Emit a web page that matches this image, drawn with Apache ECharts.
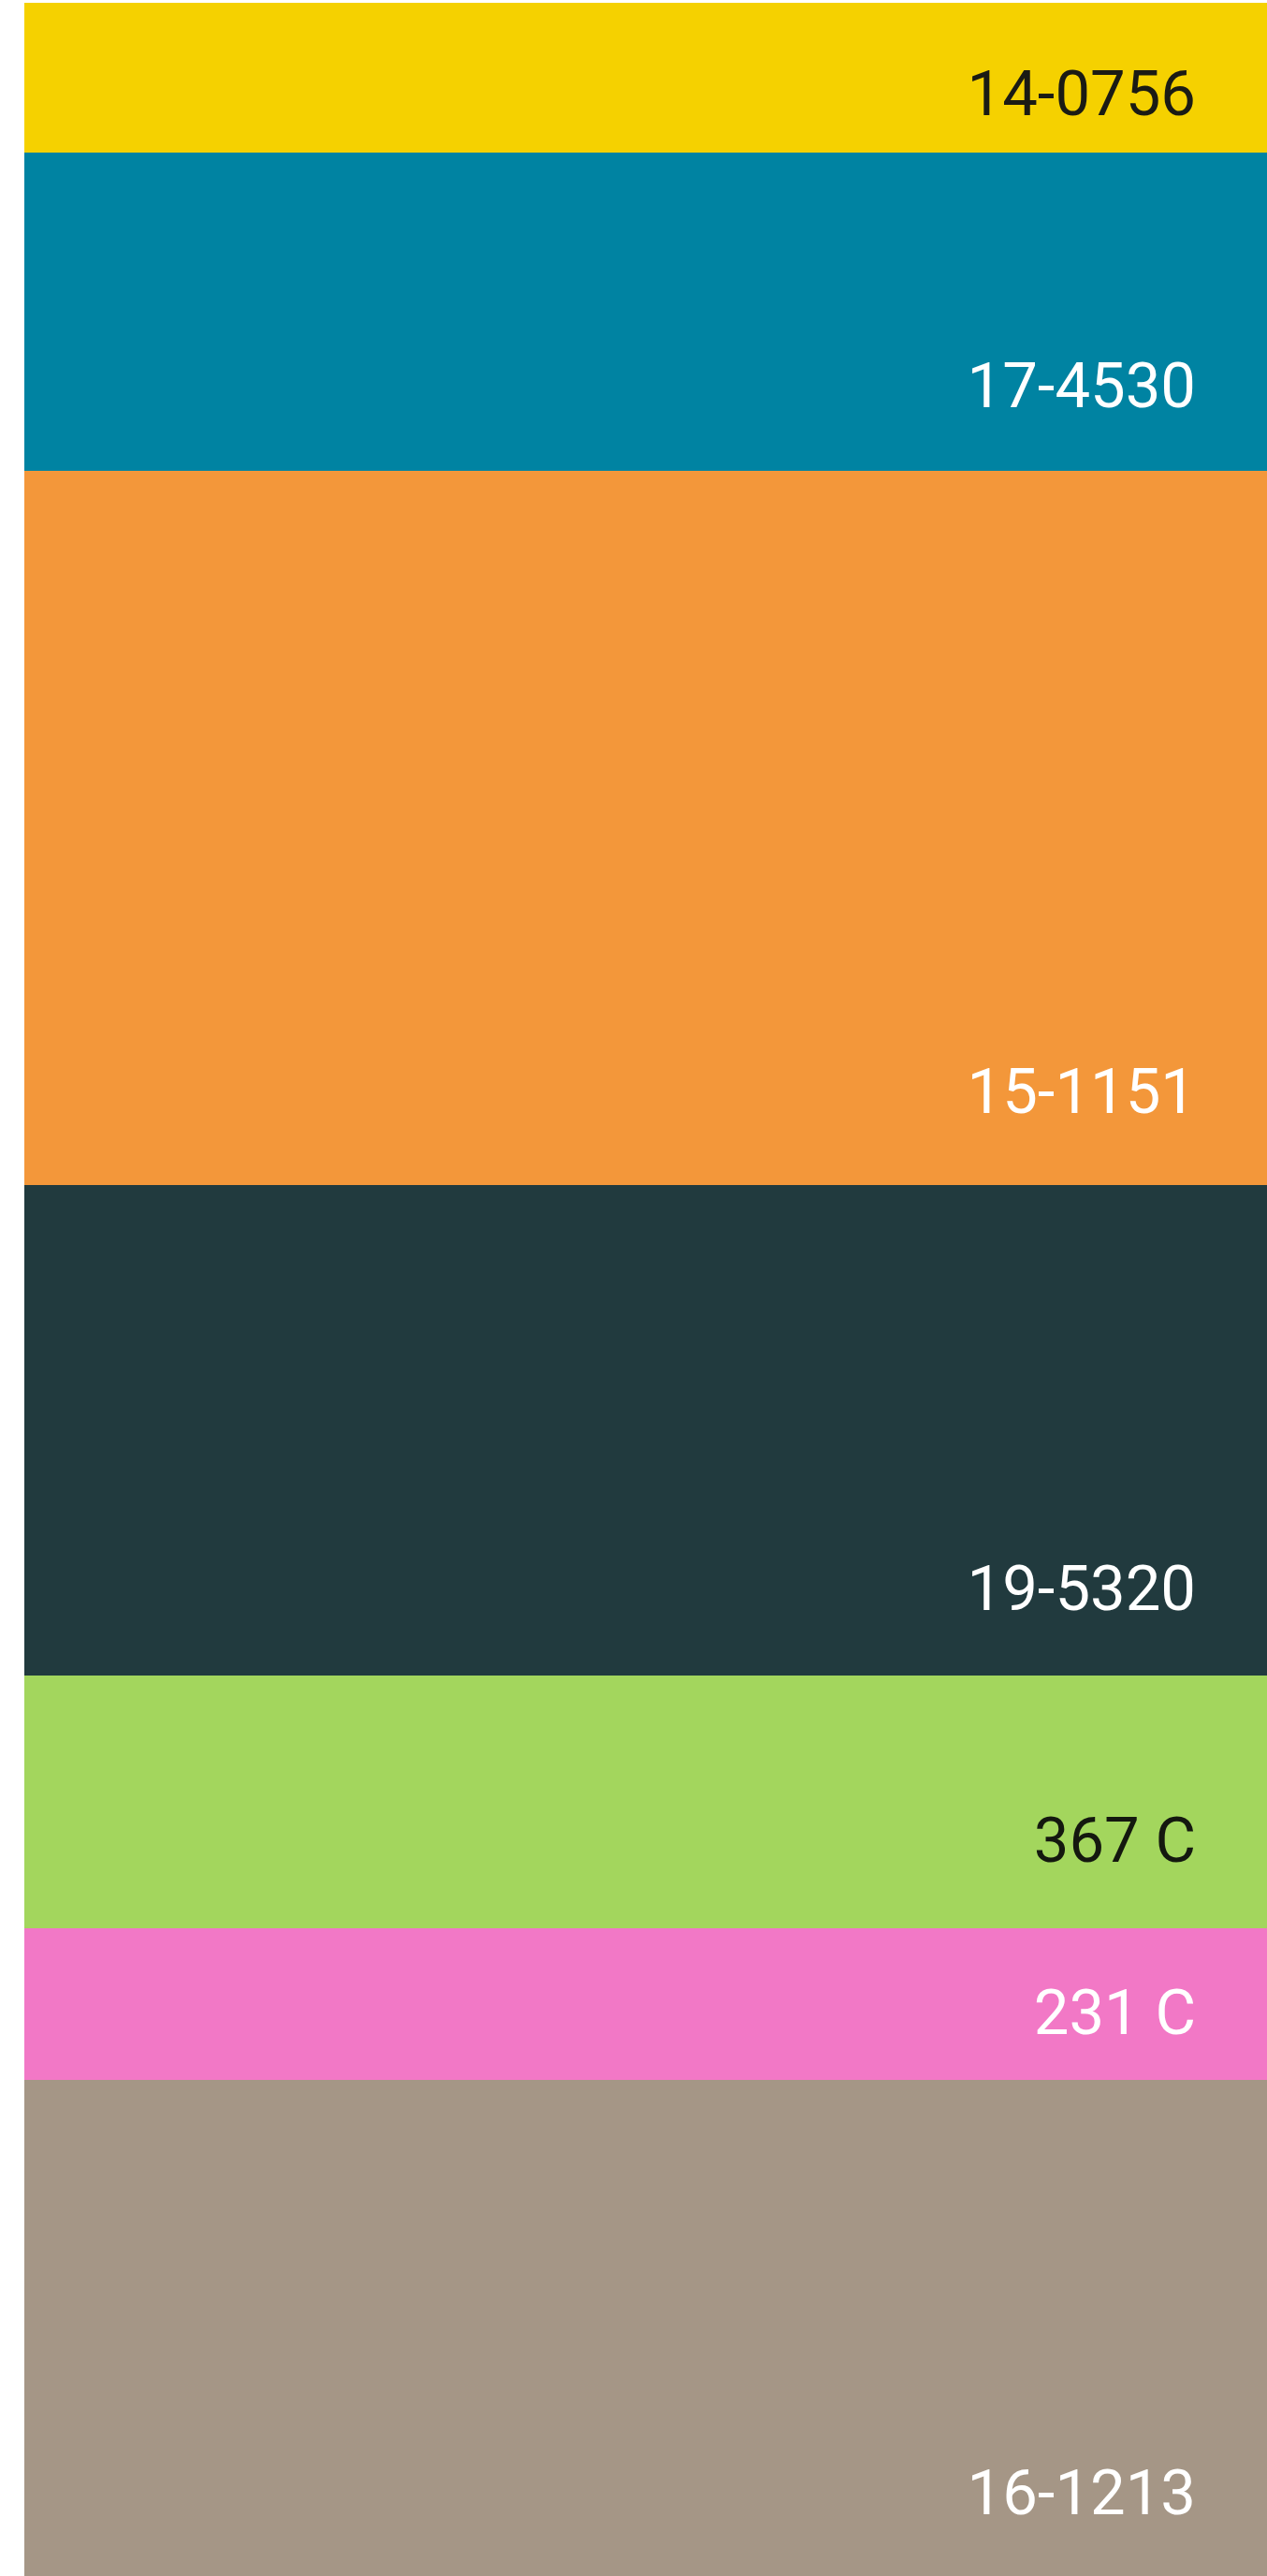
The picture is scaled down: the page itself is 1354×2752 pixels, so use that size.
<!DOCTYPE html>
<html>
<head>
<meta charset="utf-8">
<style>
html,body{margin:0;padding:0;background:#fff;}
#c{width:1354px;height:2752px;}
</style>
<script src="https://cdn.jsdelivr.net/npm/echarts@6/dist/echarts.min.js"></script>
</head>
<body>
<div id="c"></div>
<script>
// Data
const codes = ['14-0756', '17-4530', '15-1151', '19-5320', '367 C', '231 C', '16-1213'];
const heights = [160, 340, 763, 524, 270, 162, 530];

// Styles
const palette = ['#F5D100', '#0083A2', '#F3973A', '#213A3E', '#A3D65D', '#F278C6', '#A59686'];
const textColors = ['#1b1b14', '#ffffff', '#ffffff', '#ffffff', '#14180f', '#ffffff', '#ffffff'];
const labelRise = [57, 85, 94, 87, 88, 66, 83];

const chart = echarts.init(document.getElementById('c'), null, {renderer: 'canvas'});
const total = heights.reduce((a, b) => a + b, 0);

const series = codes.map((code, i) => ({
  name: code,
  type: 'bar',
  stack: 'all',
  barWidth: '100%',
  barCategoryGap: 0,
  data: [heights[i]],
  itemStyle: {color: palette[i]},
  emphasis: {disabled: true},
  label: {
    show: true,
    formatter: code,
    position: ['100%', '100%'],
    align: 'right',
    verticalAlign: 'middle',
    offset: [-76, -labelRise[i]],
    color: textColors[i],
    fontFamily: 'Roboto',
    fontSize: 67,
    fontWeight: 400
  }
}));

chart.setOption({
  animation: false,
  backgroundColor: '#ffffff',
  grid: {left: 26, right: 0, top: 3, bottom: 0},
  xAxis: {type: 'category', data: ['palette'], show: false},
  yAxis: {type: 'value', min: 0, max: total, inverse: true, show: false},
  series: series
});
</script>
</body>
</html>
